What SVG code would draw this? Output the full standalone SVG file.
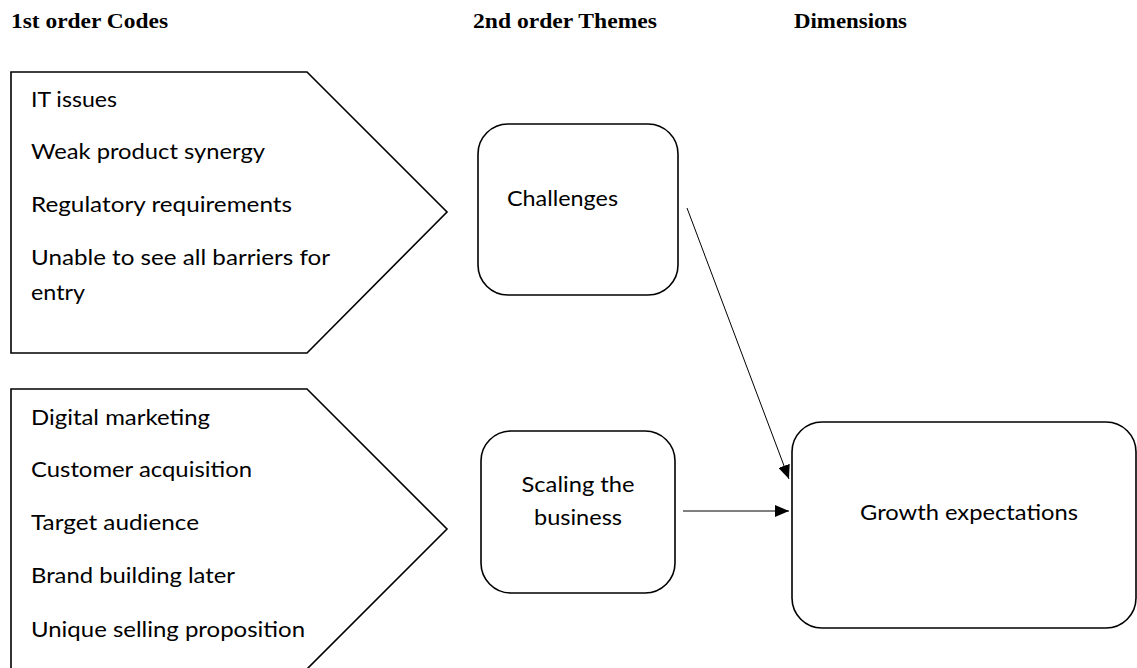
<svg xmlns="http://www.w3.org/2000/svg" width="1137" height="668" viewBox="0 0 1137 668">
<style>
.hdr{font-family:"Liberation Serif","Times New Roman",serif;font-weight:bold;font-size:20px;fill:#000}
.t{font-family:Lato,"Open Sans",sans-serif;font-size:21px;fill:#000}
.shape{fill:#fff;stroke:#000;stroke-width:1.6}
.conn{stroke:#000;stroke-width:1;fill:none}
</style>
<defs>
<marker id="ah" viewBox="0 0 14 12" refX="14" refY="6" markerWidth="14" markerHeight="12" markerUnits="userSpaceOnUse" orient="auto">
<path d="M0,0 L14,6 L0,12 Z" fill="#000"/>
</marker>
</defs>
<rect width="1137" height="668" fill="#fff"/>
<g id="headers">
<text class="hdr" x="11" y="28" textLength="157" lengthAdjust="spacingAndGlyphs">1st order Codes</text>
<text class="hdr" x="473" y="28" textLength="184" lengthAdjust="spacingAndGlyphs">2nd order Themes</text>
<text class="hdr" x="794" y="28" textLength="113" lengthAdjust="spacingAndGlyphs">Dimensions</text>
</g>
<g id="codes1">
<path class="shape" d="M11,72 L307,72 L447,212 L307,353 L11,353 Z"/>
<text class="t" x="31" y="107" textLength="86" lengthAdjust="spacingAndGlyphs">IT issues</text>
<text class="t" x="31" y="159" textLength="234" lengthAdjust="spacingAndGlyphs">Weak product synergy</text>
<text class="t" x="31" y="212" textLength="261" lengthAdjust="spacingAndGlyphs">Regulatory requirements</text>
<text class="t" x="31" y="265" textLength="299" lengthAdjust="spacingAndGlyphs">Unable to see all barriers for</text>
<text class="t" x="31" y="300" textLength="54" lengthAdjust="spacingAndGlyphs">entry</text>
</g>
<g id="codes2">
<path class="shape" d="M11,689 L11,389 L307,389 L447,529 L307,669"/>
<text class="t" x="31" y="425" textLength="179" lengthAdjust="spacingAndGlyphs">Digital marketing</text>
<text class="t" x="31" y="477" textLength="221" lengthAdjust="spacingAndGlyphs">Customer acquisition</text>
<text class="t" x="31" y="530" textLength="168" lengthAdjust="spacingAndGlyphs">Target audience</text>
<text class="t" x="31" y="583" textLength="204" lengthAdjust="spacingAndGlyphs">Brand building later</text>
<text class="t" x="31" y="637" textLength="274" lengthAdjust="spacingAndGlyphs">Unique selling proposition</text>
</g>
<g id="challenges">
<rect class="shape" x="478" y="124" width="200" height="171" rx="30" ry="30"/>
<text class="t" x="507" y="206" textLength="111" lengthAdjust="spacingAndGlyphs">Challenges</text>
</g>
<g id="scaling">
<rect class="shape" x="481" y="431" width="194" height="162" rx="30" ry="30"/>
<text class="t" x="578" y="492" text-anchor="middle" textLength="113" lengthAdjust="spacingAndGlyphs">Scaling the</text>
<text class="t" x="578" y="525" text-anchor="middle" textLength="88" lengthAdjust="spacingAndGlyphs">business</text>
</g>
<g id="growth">
<rect class="shape" x="792" y="422" width="344" height="206" rx="30" ry="30"/>
<text class="t" x="860" y="520" textLength="218" lengthAdjust="spacingAndGlyphs">Growth expectations</text>
</g>
<g id="connectors">
<line class="conn" x1="687" y1="208" x2="789" y2="479" stroke="#333" marker-end="url(#ah)"/>
<line class="conn" x1="683" y1="511" x2="789" y2="511" marker-end="url(#ah)"/>
</g>
</svg>
